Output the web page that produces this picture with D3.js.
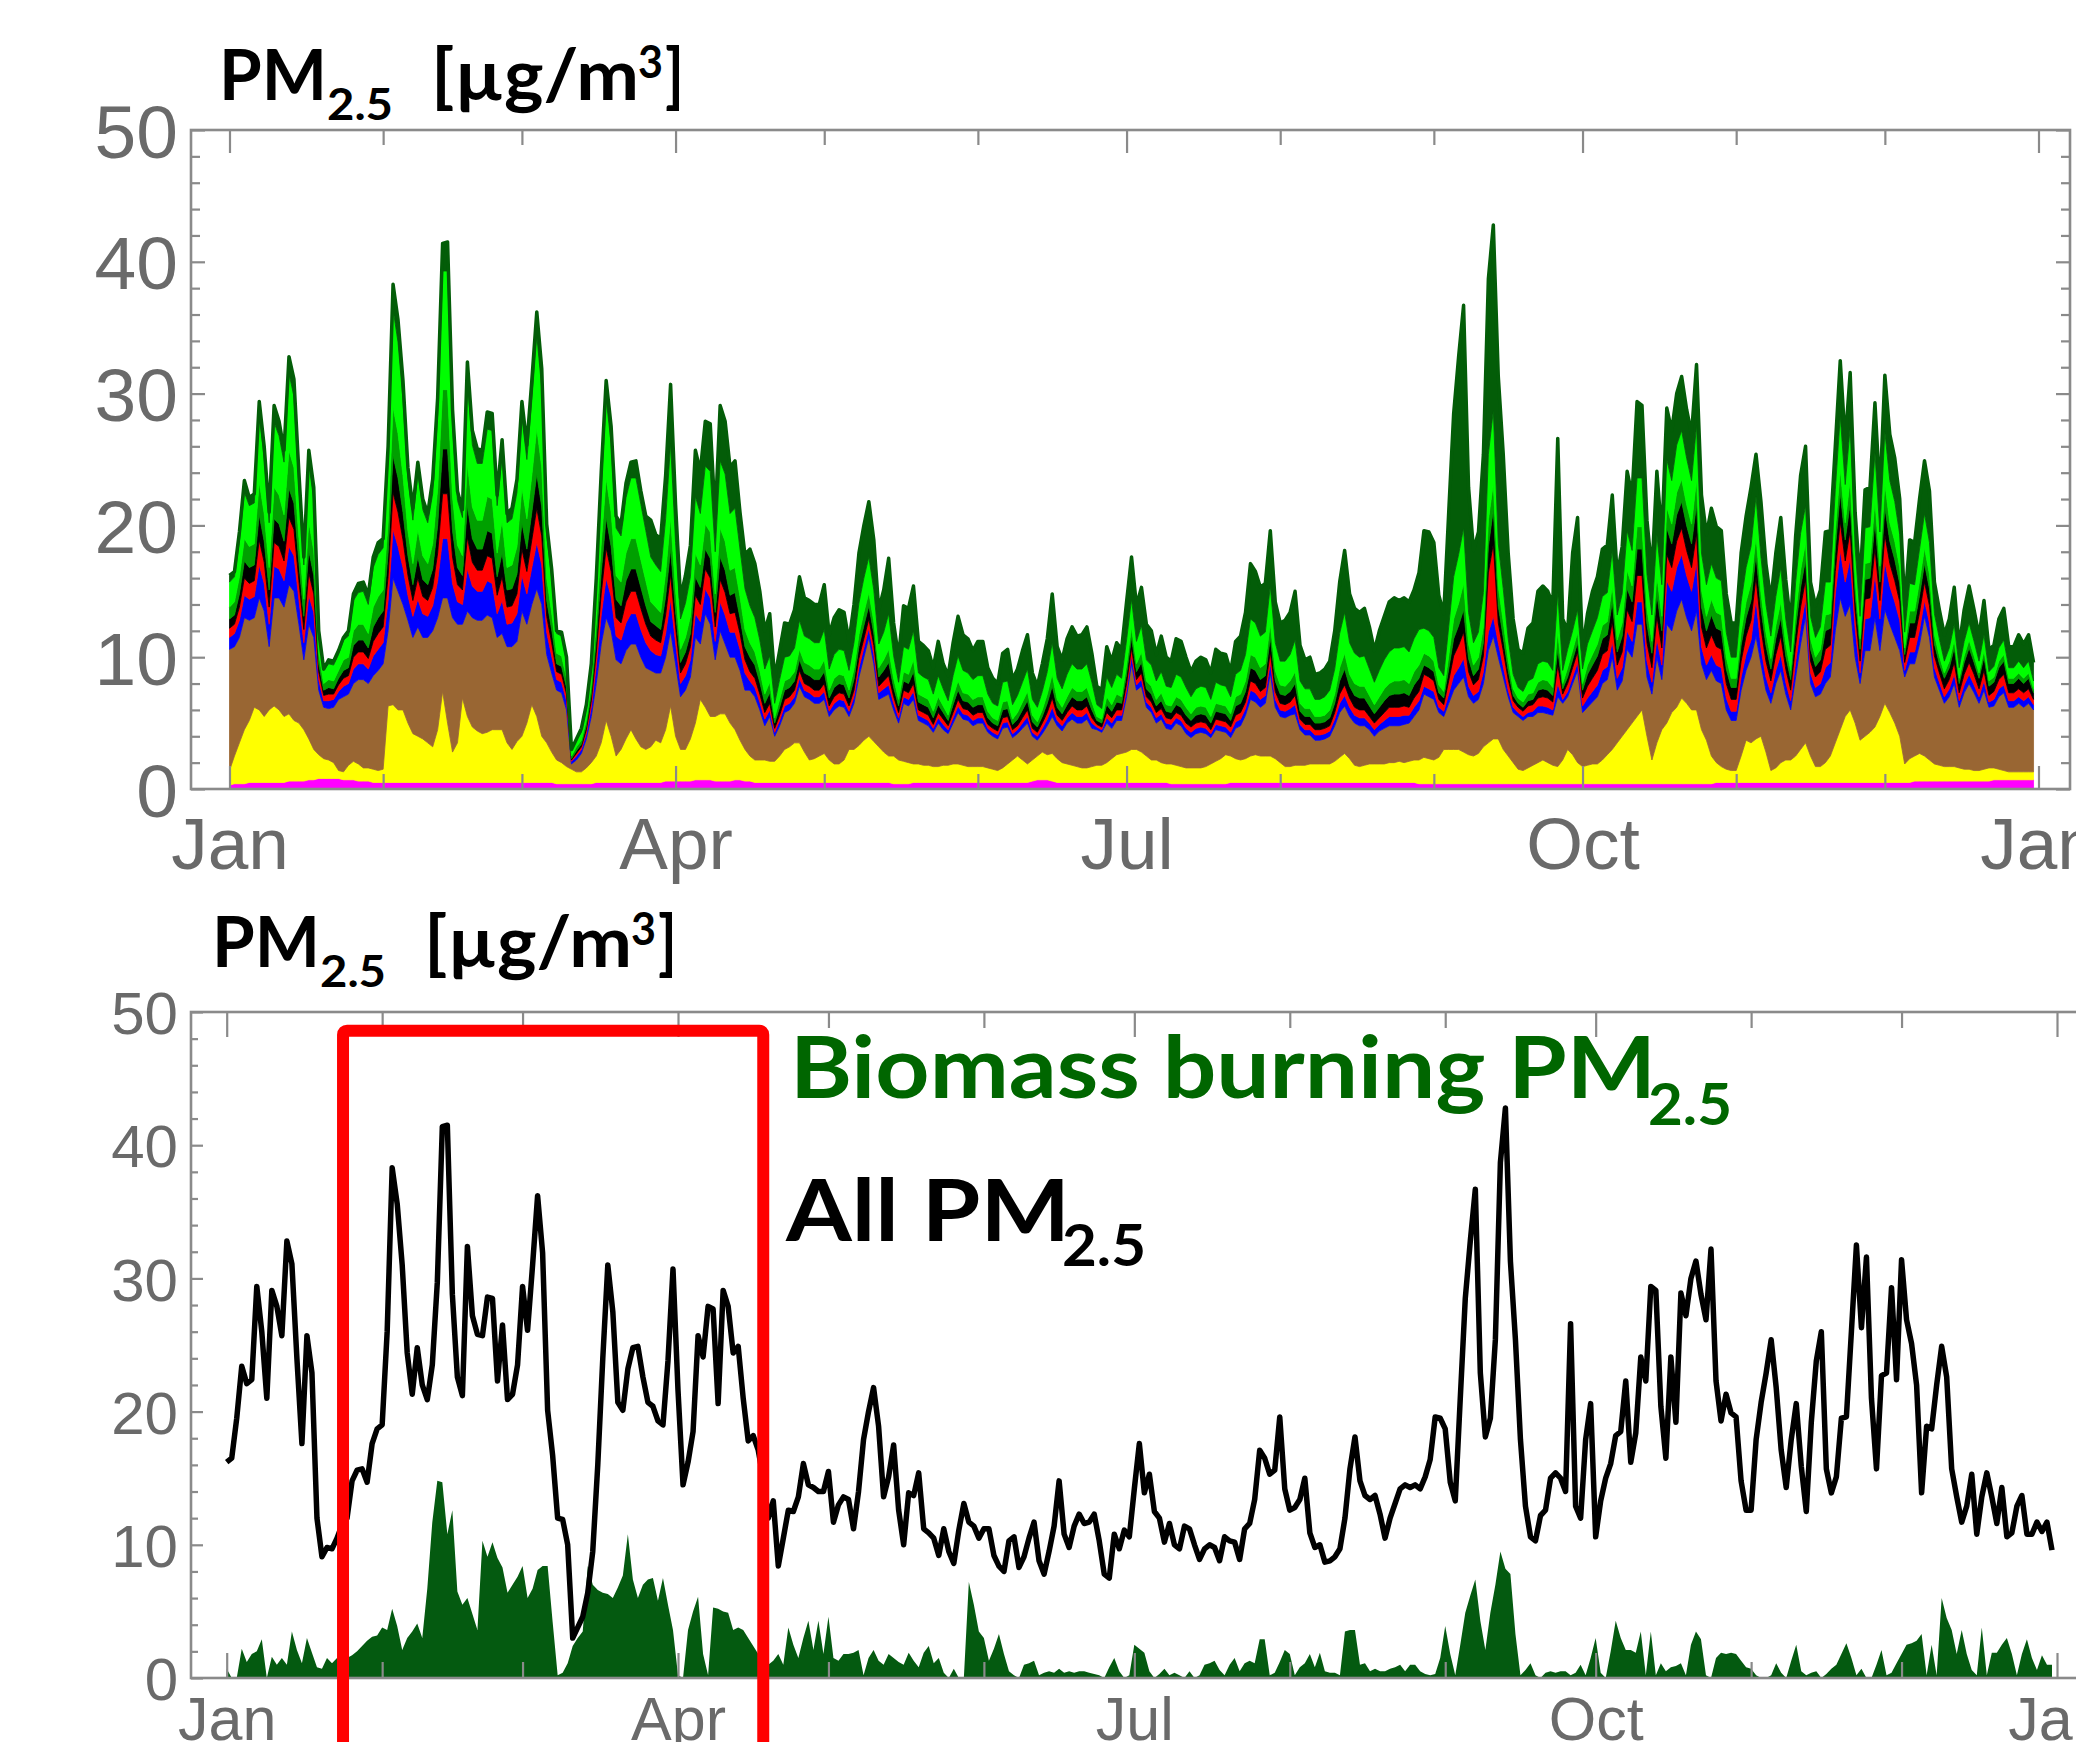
<!DOCTYPE html>
<html>
<head>
<meta charset="utf-8">
<script src="https://cdn.jsdelivr.net/npm/d3@7"></script>
<style>
  html, body { margin: 0; padding: 0; background: #fff; }
  svg { display: block; }
</style>
</head>
<body>
<svg id="chart" width="2076" height="1742"></svg>
<script>
"use strict"

// ---- data: one value per day, Jan 1 (day 0) .. Dec 31 (day 364), µg/m3 ----

// total PM2.5 (black line, also the top of the stacked chart)
const allPM = [16.2,16.5,19.5,23.4,22.1,22.4,29.4,26,21.0,29.1,
27.9,25.7,32.8,31.1,24,17.6,25.7,22.9,12.0,9.1,
9.8,9.7,10.5,11.5,12.0,14.8,15.6,15.7,14.7,17.6,
18.7,19.0,26.0,38.3,35.6,31.0,24.4,21.3,24.8,22.0,
20.9,23.5,29.7,41.4,41.5,28.8,22.6,21.2,32.4,27.2,
25.8,25.7,28.6,28.5,22.3,26.5,20.9,21.3,23.5,29.4,
26.1,31,36.2,31.9,20.1,16.7,12.0,11.9,10.0,3.0,
3.8,4.6,6.4,9.5,16,24,31.0,27.5,20.7,20.1,
23.2,24.8,24.9,22.6,20.7,20.4,19.3,19.0,23.8,30.7,
21.6,14.5,16.2,18.5,25.7,24.1,27.9,27.7,20.6,29.1,
27.9,24.4,24.9,21,17.8,18.2,17.1,15,12,13.3,
8.4,10.5,12.6,12.5,13.6,16.1,14.5,14.3,14.0,14.0,
15.5,11.7,13.0,13.6,13.4,11.2,14.0,17.9,20,21.8,
18.9,13.6,15.1,17.5,12.6,10.0,13.9,13.7,15.4,11.2,
10.9,10.5,9.2,11.2,9.5,8.6,11.1,13.1,11.7,11.4,
10.5,11.2,11.2,9.2,8.4,8.0,10.3,10.6,8.3,9.1,
10.5,11.7,8.8,7.8,9.5,11.4,14.8,10.8,9.8,11.4,
12.3,11.6,11.7,12.3,10.3,7.8,7.5,10.8,9.7,11.1,
10.6,14.2,17.6,13.9,15.3,12.5,12.0,10.2,11.6,10.0,
9.7,11.4,11.2,10.0,8.9,9.7,10.0,9.8,8.8,10.6,
10.3,10.2,8.9,11.2,11.6,13.4,17.1,16.5,15.3,15.6,
19.6,14.2,12.6,12.8,13.4,15.0,10.9,9.8,10.0,8.7,
8.8,9.1,9.7,12.0,15.7,18.1,14.8,13.7,13.4,13.7,
12.3,10.5,12.0,13.1,14.2,14.5,14.3,14.5,14.2,15.1,
16.4,19.6,19.5,18.7,14.7,13.3,21,28.5,32.8,36.7,
22.9,18.1,19.5,25.4,38.7,42.8,31.3,25.4,17.9,12.9,
10.6,10.3,12.2,12.6,15.0,15.4,15.0,14.0,26.6,12.9,
12.0,17.9,20.6,10.6,13.3,15.0,16.1,18.2,18.5,22.3,
16.2,18.4,24.1,22.3,29.4,29.1,20.4,16.5,24.1,19.2,
28.9,27.2,30.0,31.3,28.8,26.9,32.2,22.3,19.3,21.3,
19.9,19.6,14.8,12.6,12.6,17.9,20.7,22.9,25.4,21.8,
17.1,14.3,17.9,20.6,15.9,12.5,19.2,23.8,26.0,15.7,
13.9,15.1,19.5,19.6,26.0,32.5,26.3,31.6,21.0,15.7,
22.7,22.9,29.3,22.4,31.4,26.9,25.1,22.0,13.9,18.9,
18.7,22.0,24.9,22.6,15.7,13.6,11.7,12.9,15.3,10.8,
13.6,15.4,13.6,11.6,14.3,10.6,10.9,12.9,13.7,10.8,
10.8,11.7,11.0,11.7,9.6];

// biomass burning PM2.5 (dark green area, lower panel)
const biomass = [0.7,0,0,2.2,1.2,1.8,2.0,2.9,0,1.6,
1.0,1.5,1.0,3.5,2.1,1.1,3.0,1.9,0.8,0.7,
1.5,1.1,1.5,1.3,1.5,1.7,2.0,2.4,2.8,3.1,
3.2,3.8,3.6,5.2,3.9,2.1,3.0,3.5,4.1,3.0,
6.7,11.7,14.8,14.7,10.8,12.6,6.5,5.5,6.0,4.8,
3.6,10.3,9.1,10.2,9.0,8.3,6.4,7.0,7.6,8.4,
6.0,6.7,8.1,8.4,8.4,4.2,0.2,0.4,1.1,2.4,
3.0,3.5,8.4,7.0,6.6,6.4,6.3,6.0,6.8,7.7,
10.8,7.4,6.0,7.0,7.4,7.5,5.8,7.5,5.5,3.6,
0.2,0,3.6,5.0,6.1,1.8,0.2,5.3,5.2,5.0,
4.9,3.6,3.8,3.6,3.0,2.4,1.8,1.2,1.0,1.3,
1.8,1.0,3.8,2.5,1.5,3.0,4.3,2.1,4.3,1.8,
4.6,1.5,1.3,1.8,1.8,1.9,2.1,0.2,1.5,2.1,
1.3,1.0,1.8,1.5,1.2,1.0,1.9,1.3,0.8,1.9,
2.4,1.1,1.5,0.4,0,0.7,0,0,7.2,5.5,
3.5,3.0,1.3,2.2,3.3,1.8,0.5,0.2,0,1.0,
1.1,1.3,0.2,0.4,0.5,0.4,0.7,0.4,0.5,0.4,
0.5,0.5,0.4,0.3,0.2,0,0.8,1.5,0.5,0,
0.2,2.5,2.2,1.9,0.5,0,0.3,0.7,0.2,0.4,
0.2,0,0.5,0,0.2,1.0,1.1,1.3,0.6,0.2,
1.0,1.5,0.5,1.1,1.3,1.1,2.9,2.9,0.2,0.4,
1.2,2.1,1.8,0.2,0.8,1.1,1.8,0.8,1.9,0.5,
0.4,0.4,0.2,3.5,3.6,3.6,1.0,1.1,0.5,0.7,
0.5,0.5,0.7,0.8,1.0,0.5,1.0,1.0,0.5,0.3,
0.2,0.3,1.5,3.9,1.8,0.2,2.5,4.9,6.2,7.4,
4.3,2.1,4.9,7.0,9.5,8.2,7.8,3.3,0.2,0.6,
1.1,0.2,0,0.4,0.5,0.4,0.5,0.5,0.2,0.4,
1.0,0.2,1.5,3.0,0.4,0,2.0,4.3,3.0,2.1,
2.1,1.9,3.5,0.2,3.5,0.2,1.1,0.5,0.8,0.9,
1.1,0.2,2.5,3.5,2.9,0.2,0,1.5,1.9,1.8,
1.9,1.8,1.3,0.8,0.7,0.2,0,0,0.2,1.1,
0.4,0,1.3,2.5,0.5,0.2,0.4,0.5,0,0.3,
0.7,1.0,1.8,2.6,1.5,0.2,0.7,0,0,1.0,
2.1,0.2,0.4,1.1,1.8,2.5,2.6,2.8,3.3,0.2,
2.5,0.2,6.0,4.5,3.6,1.8,3.6,1.8,0.6,0.2,
3.8,0.2,1.9,1.9,2.5,3.0,1.8,0.2,1.8,2.9,
1.5,0.6,1.7,1.0,1.0];

// upper stack: thickness of the magenta bottom layer
const pinkBand = [.3,.4,.4,.4,.5,.5,.5,.5,.5,.5,
.5,.5,.6,.6,.6,.6,.7,.7,.8,.8,
.8,.8,.8,.7,.7,.7,.6,.6,.6,.5,
.5,.5,.5,.5,.5,.5,.5,.5,.5,.5,
.5,.5,.5,.5,.5,.5,.5,.5,.5,.5,
.5,.5,.5,.5,.5,.5,.5,.5,.5,.5,
.5,.5,.5,.5,.5,.5,.4,.4,.4,.4,
.4,.4,.4,.4,.5,.5,.5,.5,.5,.5,
.5,.5,.5,.5,.5,.5,.5,.5,.6,.6,
.6,.6,.6,.6,.7,.7,.7,.7,.6,.6,
.6,.6,.7,.7,.6,.6,.5,.5,.5,.5,
.5,.5,.5,.5,.5,.5,.5,.5,.5,.5,
.5,.5,.5,.5,.5,.5,.5,.5,.5,.5,
.5,.5,.5,.5,.4,.4,.4,.4,.5,.5,
.5,.5,.5,.5,.5,.5,.5,.5,.5,.5,
.5,.5,.5,.5,.5,.5,.5,.5,.5,.5,
.5,.5,.6,.7,.7,.7,.6,.5,.5,.5,
.5,.5,.5,.5,.5,.5,.5,.5,.5,.5,
.5,.5,.5,.5,.5,.5,.5,.5,.5,.5,
.4,.4,.4,.4,.4,.4,.4,.4,.4,.4,
.4,.4,.5,.5,.5,.5,.5,.5,.5,.5,
.5,.5,.5,.5,.5,.5,.5,.5,.5,.5,
.5,.5,.5,.5,.5,.5,.5,.5,.5,.5,
.5,.5,.5,.5,.5,.5,.5,.5,.5,.5,
.4,.4,.4,.4,.4,.4,.4,.4,.4,.4,
.4,.4,.4,.4,.4,.4,.4,.4,.4,.4,
.4,.4,.4,.4,.4,.4,.4,.4,.4,.4,
.4,.4,.4,.4,.4,.4,.4,.4,.4,.4,
.4,.4,.4,.4,.4,.4,.4,.4,.4,.4,
.4,.4,.4,.4,.4,.4,.4,.4,.4,.4,
.5,.5,.5,.5,.5,.5,.5,.5,.5,.5,
.5,.5,.5,.5,.5,.5,.5,.5,.5,.5,
.5,.5,.5,.5,.5,.5,.5,.5,.5,.5,
.5,.5,.5,.5,.5,.5,.5,.5,.5,.5,
.6,.6,.6,.6,.6,.6,.6,.6,.6,.6,
.6,.6,.6,.6,.6,.6,.7,.7,.7,.7,
.7,.7,.7,.7,.7];

// upper stack: top edge of the yellow layer
const yellowTop = [1.4,2.5,3.5,4.5,5.2,6.2,6.0,5.5,6.0,6.3,
6.0,5.5,5.7,5.2,5.0,4.5,3.8,3.0,2.6,2.3,
2.2,2.0,1.4,1.3,1.8,2.1,1.9,1.6,1.6,1.5,
1.4,1.5,6.3,6.4,6.0,6.0,5.0,4.2,4.0,3.8,
3.5,3.2,4.5,7.4,5.0,2.8,3.5,6.9,5.5,4.7,
4.4,4.2,4.3,4.5,4.5,4.5,3.5,3.0,3.6,4.0,
5.0,6.4,5.5,4.0,3.5,2.8,2.2,2.0,1.7,1.5,
1.3,1.3,1.6,2.0,2.5,3.5,5.2,4.0,2.5,3.0,
3.8,4.5,3.8,3.2,3.0,3.2,3.7,3.5,4.5,6.3,
4.0,3.0,3.0,3.8,5.0,6.8,6.2,5.5,5.5,5.7,
5.7,5.0,4.5,3.7,3.0,2.5,2.2,2.2,2.2,2.1,
2.1,2.5,3.0,3.2,3.5,3.5,2.8,2.2,2.3,2.5,
2.7,2.2,1.9,1.9,2.2,3.0,3.0,3.3,3.7,4.0,
3.6,3.2,2.8,2.5,2.5,2.2,2.1,2.0,1.9,1.9,
1.8,1.8,1.7,1.7,1.8,1.8,1.9,1.9,1.8,1.7,
1.7,1.7,1.7,1.6,1.5,1.4,1.6,1.9,2.2,2.5,
2.2,1.9,2.2,2.5,2.8,2.6,2.7,2.3,2.0,1.9,
1.8,1.7,1.6,1.6,1.7,1.8,1.8,2.0,2.3,2.6,
2.7,2.8,3.0,3.0,2.8,2.5,2.2,2.2,2.0,1.9,
1.9,1.8,1.7,1.6,1.6,1.6,1.6,1.7,1.9,2.1,
2.3,2.6,2.5,2.3,2.2,2.3,2.5,2.6,2.5,2.5,
2.5,2.3,2.0,1.7,1.7,1.8,1.8,1.8,1.9,1.9,
1.9,1.9,1.9,2.1,2.4,2.7,2.3,1.8,1.7,1.8,
1.9,1.9,1.9,1.9,2.0,2.0,2.1,2.0,2.1,2.2,
2.2,2.4,2.3,2.2,2.4,3.0,3.0,3.0,3.0,2.8,
2.6,2.5,2.7,3.2,3.5,3.8,3.8,3.0,2.5,2.0,
1.5,1.4,1.6,1.8,2.0,2.2,2.0,1.8,1.7,2.2,
3.0,2.6,2.0,1.7,1.8,1.9,1.9,2.2,2.6,3.0,
3.5,4.0,4.5,5.0,5.5,6.0,4.0,2.2,3.5,4.5,
5.0,5.8,6.2,6.9,6.5,6.0,6.0,4.5,3.7,2.5,
2.0,1.7,1.5,1.4,1.4,2.5,3.7,3.5,3.8,4.0,
2.8,1.4,1.6,2.0,2.2,2.2,2.5,3.0,3.5,2.5,
1.7,1.7,2.0,2.5,3.5,4.5,5.5,6.0,5.0,3.7,
4.0,4.3,4.7,5.5,6.5,5.8,5.0,4.0,1.9,2.3,
2.5,2.7,2.5,2.2,1.9,1.8,1.7,1.7,1.7,1.6,
1.5,1.5,1.4,1.4,1.5,1.6,1.6,1.5,1.4,1.3,
1.3,1.3,1.3,1.3,1.3];

// upper stack: top edge of the brown layer
const brownTop = [10.6,10.8,11.5,13,12.8,13,14.5,13.5,10.8,14.5,
14.5,13.8,15.5,15,12.5,9.8,12.5,11.5,7.5,6.2,
6.1,6.2,6.8,7.0,7.2,8.0,8.3,8.3,8.0,8.6,
9.0,9.5,12,16,15,14,12.8,11.5,12.3,11.5,
11.5,12,13,14.5,14.5,13,12.5,12.5,13.5,13,
12.8,12.8,13.2,13,11.5,11.8,10.8,10.8,11.2,13.5,
12.5,14,15.2,14,10.2,8.8,7.5,7.3,6.0,1.9,
2.2,2.7,3.8,5.5,8,11,13,12,9.8,9.5,
10.5,11,11,10,9.2,9,8.8,8.8,10,12,
9.5,7,7.5,8.5,11.5,11,13.3,12.5,9.8,12,
11,10,10,9,7.5,7.5,7,6,4.8,5.5,
4.0,4.8,5.8,6,6.5,7.8,7.0,6.8,6.5,6.5,
6.8,5.5,6,6.3,6.2,5.5,6.5,8.5,10,11.5,
9.5,6.8,7,7.2,6,5,6.5,6.3,6.8,5.2,
5,4.8,4.3,5,4.5,4.2,5,5.8,5.3,5.2,
4.8,5,5,4.3,4,3.8,4.6,4.7,3.9,4.2,
4.6,5,4,3.7,4.2,4.8,5.5,4.8,4.4,5,
5.3,5,5,5.3,4.6,4.5,4.3,5,4.6,5.2,
5.2,7,9.5,7.5,7.8,6.2,5.8,5,5.3,4.6,
4.5,5,4.8,4.2,3.9,4.2,4.3,4.2,3.9,4.5,
4.4,4.3,3.9,4.6,4.8,5.6,6.8,6.6,6.2,6.5,
8.8,6.2,5.5,5.4,5.6,5.7,4.5,4.1,4.1,3.7,
3.7,3.8,4.0,4.8,5.8,6.3,5.5,5.0,4.8,4.8,
4.5,4.0,4.4,4.6,4.8,4.8,4.8,4.9,5.0,5.5,
6,7.2,7,6.8,5.8,5.5,6.5,7.5,8,8.5,
7,6.5,6.8,8,10.5,11.6,10,8.5,7,5.8,
5.5,5.2,5.5,5.5,5.8,5.8,5.7,5.6,7,6.5,
7.0,8.0,9,5.8,6.2,6.6,7,8,8.3,10,
7.5,8.2,10.6,10,12.5,12.5,8.5,7.2,10,8.3,
12.5,12,13.5,14.4,13,12,13.5,9.5,8.3,9,
8.2,8.0,6,5.2,5.2,7.5,9,10,11.6,9.5,
7.5,6.5,8,9,7.2,6,8.5,11,13.1,8,
7,7.2,8,8.5,12,14.5,13.1,14,10,8,
10.5,10.5,13,10.5,13.6,12.5,11.5,10.5,8.5,9.5,
9.5,11,13.1,11.5,8.5,7.5,6.5,7,8,6.2,
7.3,8,7.3,6.5,7.5,6.2,6.3,7,7.3,6.2,
6.2,6.5,6.2,6.5,6.0];

// upper stack: thin bands above the brown layer (thickness)
const blueBand = [.9,1.0,1.3,1.7,1.6,1.6,2.5,2.1,1.7,2.4,
2.2,2.0,2.9,2.7,1.9,1.3,2.2,1.9,.8,.5,
.6,.6,.6,.8,.8,1.1,1.2,1.2,1.1,1.5,
1.6,1.6,2.3,3.7,3.4,2.8,1.9,1.6,2.1,1.8,
1.6,1.9,2.8,4.5,4.5,2.6,1.7,1.5,3.2,2.4,
2.2,2.2,2.6,2.6,1.8,2.5,1.7,1.8,2.1,2.7,
2.3,2.8,3.5,3.0,1.7,1.3,.8,.8,.7,.2,
.3,.3,.4,.7,1.3,2.2,3.0,2.6,1.8,1.8,
2.1,2.3,2.3,2.1,1.9,1.5,1.4,1.3,1.8,2.4,
1.6,1.0,1.1,1.3,1.8,1.7,1.9,2.0,1.4,2.2,
2.2,1.9,1.9,1.6,1.3,.7,.7,.6,.5,.5,
.3,.4,.5,.5,.5,.6,.5,.5,.5,.5,
.6,.4,.5,.5,.5,.4,.5,.7,.7,.7,
.7,.5,.6,.7,.5,.4,.5,.5,.6,.4,
.4,.4,.3,.4,.4,.3,.4,.5,.4,.4,
.4,.4,.4,.3,.3,.3,.4,.4,.3,.3,
.4,.5,.3,.3,.4,.5,.7,.4,.4,.4,
.5,.5,.5,.5,.4,.2,.2,.4,.4,.4,
.4,.5,.6,.4,.5,.4,.4,.4,.4,.4,
.4,.4,.4,.4,.4,.4,.4,.4,.3,.4,
.4,.4,.4,.5,.5,.5,.7,.7,.6,.6,
.8,.6,.5,.5,.5,.7,.4,.4,.4,.4,
.4,.4,.4,.5,.7,.8,.7,.6,.6,.6,
.5,.5,.5,.6,.7,.7,.7,.7,.6,.7,
.7,.6,.6,.6,.4,.4,.7,1.1,1.2,1.4,
.8,.6,.6,.9,1.4,1.5,1.1,.8,.5,.4,
.3,.3,.3,.4,.5,.5,.5,.4,1.0,.3,
.4,.5,.6,.5,.7,.8,.9,1.0,1.0,1.2,
.9,1.0,1.4,1.2,1.7,1.7,1.2,.9,1.4,1.1,
3.3,3.0,3.3,3.4,3.2,3.0,3.7,1.3,1.1,1.2,
1.2,1.2,.9,.7,.7,1.0,1.2,1.3,2.8,1.2,
1.0,.8,1.0,1.2,.9,.7,1.1,1.3,1.3,.8,
.7,.8,1.2,1.1,2.8,3.6,2.6,3.5,2.2,.8,
2.4,2.5,3.3,2.4,3.6,2.9,2.7,2.3,.5,.9,
.9,1.1,1.2,1.1,.7,.6,.5,.6,.7,.5,
.6,.7,.6,.5,.7,.4,.5,.6,.6,.5,
.5,.5,.5,.5,.4];

const redBand = [.7,.7,1.0,1.3,1.2,1.2,1.9,1.6,1.3,1.8,
1.7,1.5,2.2,2.0,1.4,1.0,1.7,1.4,.6,.4,
.5,.4,.5,.6,.6,.9,.9,.9,.8,1.1,
1.2,1.2,1.8,2.8,2.6,2.1,1.5,1.2,1.6,1.3,
1.2,1.4,2.1,3.4,3.4,2.0,1.3,1.1,2.4,1.8,
1.6,1.6,1.9,1.9,1.4,1.8,1.3,1.3,1.5,2.0,
1.7,2.1,2.6,2.2,1.2,1.0,.6,.6,.5,.1,
.2,.2,.3,.5,1.0,1.6,2.3,1.9,1.4,1.3,
1.6,1.7,1.7,1.6,1.4,1.1,1.1,1.0,1.4,1.9,
1.2,.8,.9,1.0,1.4,1.3,1.5,1.5,1.1,1.7,
1.7,1.4,1.5,1.2,1.0,.7,.7,.6,.5,.5,
.3,.4,.5,.5,.5,.6,.5,.5,.5,.5,
.6,.4,.5,.5,.5,.4,.5,.7,.7,.7,
.7,.5,.6,.7,.5,.4,.5,.5,.6,.4,
.4,.4,.3,.4,.4,.3,.4,.5,.4,.4,
.4,.4,.4,.3,.3,.3,.4,.4,.3,.3,
.4,.5,.3,.3,.4,.5,.7,.4,.4,.4,
.5,.5,.5,.5,.4,.2,.2,.4,.4,.4,
.4,.5,.6,.4,.5,.4,.4,.4,.4,.4,
.4,.4,.4,.4,.4,.4,.4,.4,.3,.4,
.4,.4,.4,.5,.5,.5,.7,.7,.6,.6,
.8,.6,.5,.5,.5,.7,.4,.4,.4,.4,
.4,.4,.4,.5,.7,.8,.7,.6,.6,.6,
.5,.5,.5,.6,.7,.7,.7,.7,.6,.7,
.7,.9,.9,.8,.6,.5,1.0,1.5,1.7,2.0,
1.1,.8,.9,1.2,4.5,5.5,1.5,1.2,.8,.5,
.4,.4,.5,.5,.6,.7,.7,.6,1.4,.4,
.6,.7,.8,.6,.9,1.0,1.1,1.2,1.2,1.5,
1.0,1.2,1.6,1.5,2.0,2.0,1.4,1.1,1.7,1.3,
2.0,1.8,2.0,2.0,1.9,1.8,2.2,1.5,1.3,1.5,
1.4,1.4,1.1,.9,.9,1.2,1.4,1.5,1.7,1.5,
1.2,.9,1.2,1.4,1.0,.8,1.3,1.5,1.5,.9,
.8,.9,1.4,1.3,1.7,2.2,1.6,2.1,1.3,.9,
1.5,1.5,2.0,1.4,2.1,1.7,1.6,1.4,.6,1.1,
1.1,1.3,1.4,1.3,.9,.7,.6,.7,.9,.6,
.8,.9,.8,.6,.8,.5,.6,.7,.8,.6,
.6,.6,.6,.6,.4];

const blackBand = [.7,.7,1.0,1.3,1.2,1.2,1.9,1.6,1.3,1.8,
1.7,1.5,2.2,2.0,1.4,1.0,1.7,1.4,.6,.4,
.5,.4,.5,.6,.6,.9,.9,.9,.8,1.1,
1.2,1.2,1.8,2.8,2.6,2.1,1.5,1.2,1.6,1.3,
1.2,1.4,2.1,3.4,3.4,2.0,1.3,1.1,2.4,1.8,
1.6,1.6,1.9,1.9,1.4,1.8,1.3,1.3,1.5,2.0,
1.7,2.1,2.6,2.2,1.2,1.0,.6,.6,.5,.1,
.2,.2,.3,.5,1.0,1.6,2.3,1.9,1.4,1.3,
1.6,1.7,1.7,1.6,1.4,1.1,1.1,1.0,1.4,1.9,
1.2,.8,.9,1.0,1.4,1.3,1.5,1.5,1.1,1.7,
1.7,1.4,1.5,1.2,1.0,1.1,1.0,.9,.7,.8,
.4,.6,.7,.7,.7,.8,.8,.8,.8,.8,
.9,.6,.7,.7,.7,.6,.8,.9,1.0,1.0,
.9,.7,.8,1.0,.7,.5,.7,.7,.9,.6,
.6,.6,.5,.6,.5,.4,.6,.7,.6,.6,
.6,.6,.6,.5,.4,.4,.6,.6,.4,.5,
.6,.7,.5,.4,.5,.7,.9,.6,.5,.6,
.7,.7,.7,.7,.6,.3,.3,.6,.5,.6,
.5,.7,.8,.6,.8,.6,.6,.5,.6,.5,
.5,.6,.6,.6,.5,.6,.6,.6,.5,.6,
.6,.6,.5,.7,.7,.8,1.0,1.0,.9,.9,
1.1,.8,.7,.7,.8,.9,.6,.6,.6,.5,
.5,.5,.6,.7,1.0,1.2,.9,.9,.9,.9,
.8,.7,.8,.9,.9,1.0,1.0,1.0,.9,1.0,
1.0,.7,.7,.7,.5,.5,.9,1.3,1.5,1.7,
1.0,.7,.8,1.0,2.0,2.6,1.3,1.0,.7,.4,
.3,.3,.4,.4,.6,.6,.6,.5,1.2,.4,
.5,.6,.7,.6,.9,1.0,1.1,1.2,1.2,1.5,
1.0,1.2,1.6,1.5,2.0,2.0,1.4,1.1,1.7,1.3,
2.0,1.8,2.0,2.0,1.9,1.8,2.2,1.5,1.3,1.5,
1.4,1.4,1.1,.9,.9,1.2,1.4,1.5,1.7,1.5,
1.2,.9,1.2,1.4,1.0,.8,1.3,1.5,1.5,.9,
.8,.9,1.4,1.3,1.7,2.2,1.6,2.1,1.3,.9,
1.5,1.5,2.0,1.4,2.1,1.7,1.6,1.4,.6,1.1,
1.1,1.3,1.4,1.3,.9,.7,.8,.9,1.1,.7,
.9,1.1,.9,.8,1.0,.7,.7,.9,1.0,.7,
.7,.8,.7,.8,.5];

const midGreenBand = [.9,1.0,1.3,1.7,1.6,1.6,2.5,2.1,1.7,2.4,
2.2,2.0,2.9,2.7,1.9,1.3,2.2,1.9,.8,.5,
.6,.6,.6,.8,.8,1.1,1.2,1.2,1.1,1.5,
1.6,1.6,2.3,3.7,3.4,2.8,1.9,1.6,2.1,1.8,
1.6,1.9,2.8,4.5,4.5,2.6,1.7,1.5,3.2,2.4,
2.2,2.2,2.6,2.6,1.8,2.5,1.7,1.8,2.1,2.7,
2.3,2.8,3.5,3.0,1.7,1.3,.8,.8,.7,.2,
.3,.3,.4,.7,1.3,2.2,3.0,2.6,1.8,1.8,
2.1,2.3,2.3,2.1,1.9,1.5,1.4,1.3,1.8,2.4,
1.6,1.0,1.1,1.3,1.8,1.7,1.9,2.0,1.4,2.2,
2.2,1.9,1.9,1.6,1.3,1.1,1.0,.9,.7,.8,
.4,.6,.7,.7,.7,.8,.8,.8,.8,.8,
.9,.6,.7,.7,.7,.6,.8,.9,1.0,1.0,
.9,.7,.8,1.0,.7,.5,.7,.7,.9,.6,
.6,.6,.5,.6,.5,.4,.6,.7,.6,.6,
.6,.6,.6,.5,.4,.4,.6,.6,.4,.5,
.6,.7,.5,.4,.5,.7,.9,.6,.5,.6,
.7,.7,.7,.7,.6,.3,.3,.6,.5,.6,
.5,.7,.8,.6,.8,.6,.6,.5,.6,.5,
.5,.6,.6,.6,.5,.6,.6,.6,.5,.6,
.6,.6,.5,.7,.7,.8,1.0,1.0,.9,.9,
1.1,.8,.7,.7,.8,.9,.6,.6,.6,.5,
.5,.5,.6,.7,1.0,1.2,.9,.9,.9,.9,
.8,.7,.8,.9,.9,1.0,1.0,1.0,.9,1.0,
1.0,.9,.9,.8,.6,.5,1.0,1.5,1.7,2.0,
1.1,.8,.9,1.2,2.0,2.0,1.5,1.2,.8,.5,
.4,.4,.5,.5,.6,.7,.7,.6,1.4,.4,
.7,.7,.8,.5,.7,.8,.9,1.0,1.0,1.2,
.9,1.0,1.4,1.2,1.7,1.7,1.2,.9,1.4,1.1,
1.6,1.5,1.7,1.7,1.6,1.5,1.9,1.3,1.1,1.2,
1.2,1.2,.9,.7,.7,1.0,1.2,1.3,1.4,1.2,
1.0,.8,1.0,1.2,.9,.7,1.1,1.3,1.3,.8,
.7,.8,1.2,1.1,1.4,1.8,1.3,1.8,1.1,.8,
1.2,1.2,1.6,1.2,1.8,1.4,1.4,1.2,.5,.9,
.9,1.1,1.2,1.1,.7,.6,.4,.5,.6,.4,
.5,.6,.5,.4,.5,.4,.4,.5,.5,.4,
.4,.4,.4,.4,.3];

const limeBand = [1.9,1.9,2.7,3.5,3.1,3.1,5.0,4.2,3.4,4.9,
4.5,4.0,5.8,5.4,3.8,2.6,4.4,3.8,1.5,1.0,
1.2,1.2,1.2,1.5,1.6,2.3,2.4,2.5,2.2,3.0,
3.2,3.2,4.7,7.4,6.9,5.7,3.9,3.3,4.2,3.5,
3.1,3.8,5.6,9.0,9.0,5.3,3.4,2.9,6.3,4.7,
4.3,4.3,5.1,5.2,3.6,4.9,3.4,3.5,4.1,5.3,
4.5,5.7,7.0,6.0,3.3,2.6,1.5,1.5,1.3,.4,
.5,.6,.9,1.3,2.7,4.3,6.0,5.2,3.6,3.5,
4.2,4.6,4.6,4.2,3.8,3.4,3.2,3.1,4.1,5.6,
3.6,2.3,2.6,3.0,4.3,3.9,4.4,4.6,3.2,5.1,
5.1,4.3,4.5,3.6,3.1,2.8,2.6,2.3,1.9,2.0,
1.1,1.5,1.8,1.7,1.8,2.2,2.0,2.0,2.0,2.0,
2.3,1.6,1.8,1.9,1.9,1.5,2.0,2.4,2.6,2.7,
2.4,1.8,2.1,2.7,1.7,1.3,1.9,1.9,2.2,1.6,
1.5,1.5,1.3,1.6,1.3,1.1,1.6,1.9,1.7,1.6,
1.5,1.6,1.6,1.3,1.1,1.1,1.5,1.5,1.1,1.3,
1.5,1.7,1.2,1.1,1.4,1.7,2.4,1.6,1.4,1.7,
1.8,1.7,1.7,1.8,1.5,.9,.8,1.5,1.3,1.5,
1.4,1.9,2.1,1.7,2.0,1.6,1.6,1.4,1.6,1.4,
1.4,1.7,1.7,1.5,1.3,1.4,1.5,1.5,1.3,1.6,
1.5,1.5,1.3,1.7,1.8,2.0,2.7,2.6,2.4,2.4,
2.8,2.1,1.8,1.9,2.0,2.4,1.7,1.5,1.5,1.3,
1.3,1.4,1.5,1.9,2.6,3.1,2.4,2.3,2.2,2.3,
2.0,1.7,2.0,2.2,2.4,2.5,2.5,2.5,2.4,2.5,
2.7,1.9,1.9,1.8,1.3,1.2,2.2,3.2,3.7,4.2,
2.4,1.7,1.9,2.6,5.0,5.5,3.2,2.5,1.6,1.1,
.8,.8,1.0,1.1,1.4,1.4,1.4,1.3,2.9,1.0,
1.4,1.5,1.7,1.1,1.6,1.8,2.0,2.2,2.2,2.7,
1.9,2.2,3.0,2.7,3.7,3.7,2.6,2.0,3.1,2.4,
3.6,3.3,3.6,3.7,3.5,3.3,4.1,2.8,2.4,2.7,
2.6,2.6,1.9,1.6,1.6,2.3,2.6,2.8,3.0,2.7,
2.1,1.7,2.2,2.6,1.9,1.4,2.4,2.8,2.8,1.7,
1.5,1.7,2.5,2.4,3.1,4.0,2.9,3.9,2.4,1.7,
2.7,2.7,3.6,2.6,3.9,3.2,3.0,2.5,1.2,2.1,
2.0,2.4,2.6,2.4,1.6,1.3,.9,1.0,1.2,.8,
1.1,1.3,1.1,.9,1.2,.7,.8,1.0,1.1,.8,
.8,.9,.8,.9,.6];

// calendar: day offsets of month starts, and the labelled quarters
const monthStarts = [0, 31, 59, 90, 120, 151, 181, 212, 243, 273, 304, 334, 365];
const quarterDays = [0, 90, 181, 273, 365];
const quarterLabels = ["Jan", "Apr", "Jul", "Oct", "Jan"];
const yLabelValues = [0, 10, 20, 30, 40, 50];

// highlighted period in the lower panel (days, µg/m3)
const highlightStart = 23.2;
const highlightEnd = 107;
const highlightTop = 48.6;

// ---- styles ----
const layerKeys = ["pink", "yellow", "brown", "blue", "red", "black", "midGreen", "lime", "darkGreen"];
const layerColors = {
  pink: "#ff00ff", yellow: "#ffff00", brown: "#996633", blue: "#0000ff", red: "#ff0000",
  black: "#000000", midGreen: "#00a000", lime: "#00ff00", darkGreen: "#035d08"
};
const frameColor = "#8a8a8a";
const labelColor = "#6a6a6a";
const tickFont = "'Liberation Sans', Arial, Helvetica, sans-serif";
const titleFont = "Lato, 'Open Sans', sans-serif";

const topPanel = {
  left: 191, right: 2070, top: 130, bottom: 789, jan0: 229.5, jan1: 2038.5,
  yFont: 75, xFont: 73, xPad: 28, yPad: 13, xMajor: 23, xMinor: 15, yMajor: 14, yMinor: 9, rightTicks: true
};
const bottomPanel = {
  left: 191, right: 2092, top: 1012, bottom: 1678, jan0: 226.7, jan1: 2057,
  yFont: 60, xFont: 61, xPad: 19, yPad: 13, xMajor: 25, xMinor: 16, yMajor: 12, yMinor: 7, rightTicks: false
};

const svg = d3.select("#chart");
svg.append("rect").attr("width", 2076).attr("height", 1742).attr("fill", "#fff");

function makeScales(p) {
  let x = d3.scaleLinear().domain([0, 365]).range([p.jan0, p.jan1]);
  let y = d3.scaleLinear().domain([0, 50]).range([p.bottom, p.top]);
  return [x, y];
}

/**
 * Mathematica style frame: box with inward ticks on every side.
 */
function drawFrame(p, x, y) {
  let g = svg.append("g");
  let minorDays = monthStarts.filter(d => !quarterDays.includes(d));
  let minorVals = d3.range(2, 50, 2).filter(v => v % 10 !== 0);

  let style = sel => {
    sel.select(".domain").remove();
    sel.selectAll(".tick line").attr("stroke", frameColor).attr("stroke-width", 2.2);
    sel.selectAll(".tick text").attr("fill", labelColor);
  };

  g.append("rect")
    .attr("x", p.left).attr("y", p.top)
    .attr("width", p.right - p.left).attr("height", p.bottom - p.top)
    .attr("fill", "none").attr("stroke", frameColor).attr("stroke-width", 2.6);

  // bottom
  g.append("g").attr("transform", `translate(0,${p.bottom})`)
    .call(d3.axisBottom(x).tickValues(quarterDays).tickSize(-p.xMajor).tickPadding(p.xPad)
      .tickFormat((d, i) => quarterLabels[i]))
    .attr("font-size", p.xFont).attr("font-family", tickFont)
    .call(style);
  g.append("g").attr("transform", `translate(0,${p.bottom})`)
    .call(d3.axisBottom(x).tickValues(minorDays).tickSize(-p.xMinor).tickFormat(""))
    .call(style);

  // top
  g.append("g").attr("transform", `translate(0,${p.top})`)
    .call(d3.axisTop(x).tickValues(quarterDays).tickSize(-p.xMajor).tickFormat(""))
    .call(style);
  g.append("g").attr("transform", `translate(0,${p.top})`)
    .call(d3.axisTop(x).tickValues(minorDays).tickSize(-p.xMinor).tickFormat(""))
    .call(style);

  // left
  g.append("g").attr("transform", `translate(${p.left},0)`)
    .call(d3.axisLeft(y).tickValues(yLabelValues).tickSize(-p.yMajor).tickPadding(p.yPad))
    .attr("font-size", p.yFont).attr("font-family", tickFont)
    .call(style)
    .call(sel => sel.selectAll(".tick text").attr("dy", "0.36em"));
  g.append("g").attr("transform", `translate(${p.left},0)`)
    .call(d3.axisLeft(y).tickValues(minorVals).tickSize(-p.yMinor).tickFormat(""))
    .call(style);

  // right
  if (p.rightTicks) {
    g.append("g").attr("transform", `translate(${p.right},0)`)
      .call(d3.axisRight(y).tickValues(yLabelValues).tickSize(-p.yMajor).tickFormat(""))
      .call(style);
    g.append("g").attr("transform", `translate(${p.right},0)`)
      .call(d3.axisRight(y).tickValues(minorVals).tickSize(-p.yMinor).tickFormat(""))
      .call(style);
  }
}

/**
 * Writes one piece of bold text squeezed or stretched to a given width.
 */
function boldText(str, x, y, size, width, color) {
  return svg.append("text")
    .attr("x", x).attr("y", y)
    .attr("font-family", titleFont).attr("font-weight", 700).attr("font-size", size)
    .attr("fill", color)
    .attr("textLength", width).attr("lengthAdjust", "spacingAndGlyphs")
    .text(str);
}

// "PM2.5  [µg/m3]" axis title, x is where "P" starts
function drawTitle(x, baseline) {
  boldText("PM", x, baseline, 70, 108, "#000");
  boldText("2.5", x + 108, baseline + 20, 44, 66, "#000");
  boldText("[µg/m", x + 212, baseline, 70, 208, "#000");
  boldText("3", x + 419, baseline - 22, 46, 25, "#000");
  boldText("]", x + 446, baseline, 70, 19, "#000");
}

function drawStackedPanel() {
  let [x, y] = makeScales(topPanel);
  let rows = allPM.map((total, i) => {
    let upper = blueBand[i] + redBand[i] + blackBand[i] + midGreenBand[i] + limeBand[i];
    return {
      day: i,
      pink: pinkBand[i],
      yellow: yellowTop[i] - pinkBand[i],
      brown: brownTop[i] - yellowTop[i],
      blue: blueBand[i],
      red: redBand[i],
      black: blackBand[i],
      midGreen: midGreenBand[i],
      lime: limeBand[i],
      darkGreen: Math.max(0, total - brownTop[i] - upper)
    };
  });
  let series = d3.stack().keys(layerKeys)(rows);
  let area = d3.area()
    .x(d => x(d.data.day))
    .y0(d => y(d[0]))
    .y1(d => y(d[1]));

  svg.append("g").selectAll("path")
    .data(series)
    .enter()
    .append("path")
      .attr("d", area)
      .attr("fill", d => layerColors[d.key])
      .attr("stroke", d => layerColors[d.key])
      .attr("stroke-width", 0.8)
      .attr("stroke-linejoin", "round");

  // dark green edge along the top of the stack
  let topEdge = d3.line()
    .x((v, i) => x(i))
    .y(v => y(v));
  svg.append("path")
    .attr("d", topEdge(allPM))
    .attr("fill", "none")
    .attr("stroke", layerColors.darkGreen)
    .attr("stroke-width", 3.5)
    .attr("stroke-linejoin", "round");

  drawFrame(topPanel, x, y);
  drawTitle(219, 100);
}

function drawLinePanel() {
  let [x, y] = makeScales(bottomPanel);
  let days = allPM.map((v, i) => i);

  let bioArea = d3.area()
    .x(i => x(i))
    .y0(y(0))
    .y1(i => y(biomass[i]));
  svg.append("path")
    .attr("d", bioArea(days))
    .attr("fill", "#045a10");

  let totalLine = d3.line()
    .x(i => x(i))
    .y(i => y(allPM[i]));
  svg.append("path")
    .attr("d", totalLine(days))
    .attr("fill", "none")
    .attr("stroke", "#000")
    .attr("stroke-width", 5.5)
    .attr("stroke-linejoin", "round");

  drawFrame(bottomPanel, x, y);
  drawTitle(212, 967);

  // highlighted period
  svg.append("rect")
    .attr("x", x(highlightStart))
    .attr("y", y(highlightTop))
    .attr("width", x(highlightEnd) - x(highlightStart))
    .attr("height", 1800 - y(highlightTop))
    .attr("rx", 4)
    .attr("fill", "none")
    .attr("stroke", "#ff0000")
    .attr("stroke-width", 12);

  // legend
  boldText("Biomass burning PM", 790, 1098, 86, 866, "#006600");
  boldText("2.5", 1648, 1125, 58, 84, "#006600");
  boldText("All PM", 786, 1241, 86, 284, "#000");
  boldText("2.5", 1062, 1266, 58, 84, "#000");
}

drawStackedPanel();
drawLinePanel();
</script>
</body>
</html>
